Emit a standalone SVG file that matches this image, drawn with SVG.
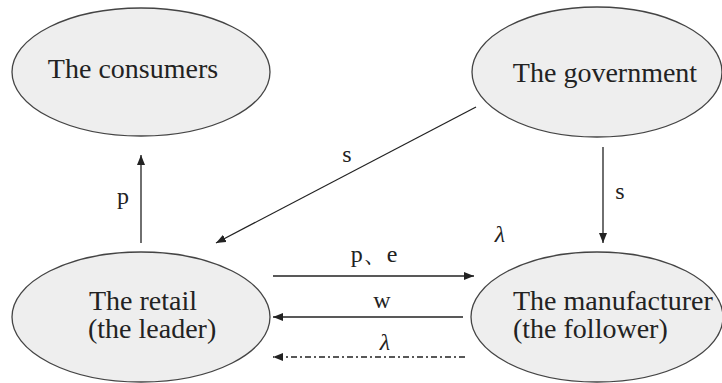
<svg xmlns="http://www.w3.org/2000/svg" width="722" height="383" viewBox="0 0 722 383">
<defs>
<marker id="ah" viewBox="0 0 10 8" refX="10" refY="4" markerWidth="10" markerHeight="8" markerUnits="userSpaceOnUse" orient="auto">
<path d="M0,0 L10,4 L0,8 Z" fill="#222"/>
</marker>
<style>
.node{fill:#eeeeee;stroke:#444;stroke-width:1.3}
.t{font-family:'Liberation Serif','Times New Roman',Times,'DejaVu Serif',serif;font-size:28px;fill:#222}
.lbl{font-family:'Liberation Serif','Times New Roman',Times,'DejaVu Serif',serif;font-size:24px;fill:#222}
.lam{font-family:'Liberation Serif','Times New Roman',Times,'DejaVu Serif',serif;font-size:24px;font-style:italic;fill:#222}
.c{stroke:#222;stroke-width:1.3;fill:none;marker-end:url(#ah)}
.dd{stroke-dasharray:6 3 2 3}
</style>
</defs>
<rect width="722" height="383" fill="#ffffff"/>
<g id="consumers">
<ellipse class="node" cx="141" cy="72" rx="129" ry="64"/>
<text class="t" x="133" y="78" text-anchor="middle">The consumers</text>
</g>
<g id="government">
<ellipse class="node" cx="597" cy="72" rx="125" ry="65"/>
<text class="t" x="605" y="82" text-anchor="middle">The government</text>
</g>
<g id="retail">
<ellipse class="node" cx="141" cy="317" rx="129" ry="65"/>
<text class="t" x="89" y="310">The retail</text>
<text class="t" x="88" y="338">(the leader)</text>
</g>
<g id="manufacturer">
<ellipse class="node" cx="597" cy="317" rx="126" ry="65"/>
<text class="t" x="513" y="310">The manufacturer</text>
<text class="t" x="513" y="338">(the follower)</text>
</g>
<g id="connectors">
<line class="c" x1="141" y1="243" x2="141" y2="155"/>
<text class="lbl" x="123" y="204" text-anchor="middle">p</text>
<line class="c" x1="476" y1="107" x2="216" y2="243"/>
<text class="lbl" x="347" y="162" text-anchor="middle">s</text>
<line class="c" x1="603" y1="147" x2="603" y2="243"/>
<text class="lbl" x="620" y="199" text-anchor="middle">s</text>
<text class="lam" x="500" y="242" text-anchor="middle">λ</text>
<line class="c" x1="273" y1="276" x2="474" y2="276"/>
<text class="lbl" x="374" y="262" text-anchor="middle">p、e</text>
<line class="c" x1="463" y1="317" x2="273" y2="317"/>
<text class="lbl" x="382" y="308" text-anchor="middle">w</text>
<line class="c dd" x1="465" y1="357" x2="273" y2="357"/>
<text class="lam" x="385" y="350" text-anchor="middle">λ</text>
</g>
</svg>
